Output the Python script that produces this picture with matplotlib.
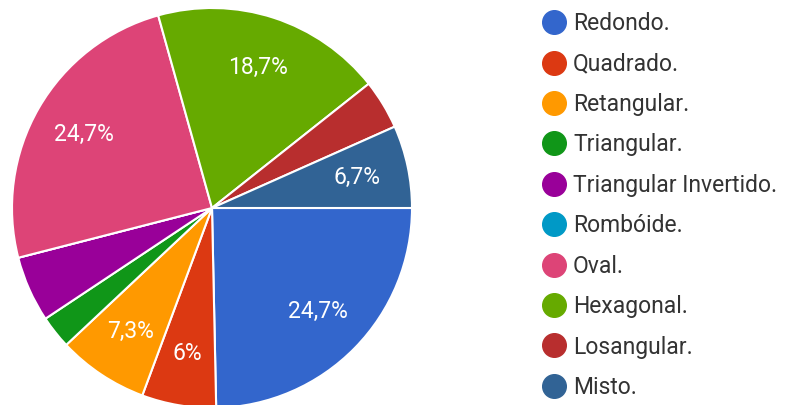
import matplotlib.pyplot as plt
from matplotlib.lines import Line2D

plt.rcParams['font.family'] = ['Roboto', 'DejaVu Sans']

categories = ['Redondo.', 'Quadrado.', 'Retangular.', 'Triangular.', 'Triangular Invertido.',
              'Rombóide.', 'Oval.', 'Hexagonal.', 'Losangular.', 'Misto.']
counts = [37, 9, 11, 4, 8, 0, 37, 28, 6, 10]
colors = ['#3366cc', '#dc3912', '#ff9900', '#109618', '#990099',
          '#0099c6', '#dd4477', '#66aa00', '#b82e2e', '#316395']


def pct_label(pct):
    # small slices get no label
    if pct < 5.5:
        return ''
    s = f'{pct:.1f}'.replace('.', ',')
    if s.endswith(',0'):
        s = s[:-2]
    return s + '%'


fig = plt.figure(figsize=(8.09, 4.05), dpi=100)
ax = fig.add_axes([12 / 809, -3 / 405, 400 / 809, 400 / 405])
wedges, texts, autotexts = ax.pie(counts, colors=colors, startangle=0, counterclock=False,
                                  autopct=pct_label, pctdistance=0.74,
                                  wedgeprops=dict(edgecolor='white', linewidth=1.5),
                                  textprops=dict(color='white', fontsize=16.5))
ax.set_xlim(-1.0, 1.0)
ax.set_ylim(-1.0, 1.0)

handles = [Line2D([], [], marker='o', linestyle='', markersize=17,
                  markerfacecolor=c, markeredgecolor=c) for c in colors]
fig.legend(handles, categories, loc='upper left', bbox_to_anchor=(533 / 809, 1 - 3 / 405),
           frameon=False, fontsize=16.5, labelspacing=0.76, handletextpad=0.35,
           handlelength=1.0, labelcolor='#333333', borderaxespad=0)

fig.savefig('out.png', dpi=100)
